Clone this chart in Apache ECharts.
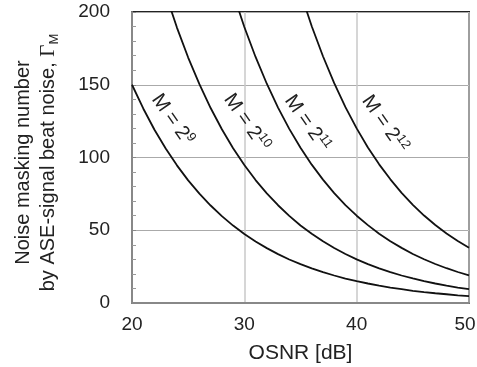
<!DOCTYPE html>
<html>
<head>
<meta charset="utf-8">
<script src="https://cdn.jsdelivr.net/npm/echarts@6/dist/echarts.min.js"></script>
<style>
  html, body { margin: 0; padding: 0; background: #fff; }
  #chart { width: 477px; height: 367px; }
</style>
</head>
<body>
<div id="chart"></div>
<script>
// OSNR in dB, 1 dB steps
var osnr = [20, 21, 22, 23, 24, 25, 26, 27, 28, 29, 30, 31, 32, 33, 34, 35, 36, 37, 38, 39, 40,
            41, 42, 43, 44, 45, 46, 47, 48, 49, 50];

// noise masking number (null = above 200, off the plot)
var m9 = [150, 133.7, 119.1, 106.2, 94.6, 84.3, 75.2, 67.0, 59.7, 53.2, 47.4, 42.3, 37.7, 33.6, 29.9, 26.7,
          23.8, 21.2, 18.9, 16.8, 15.0, 13.4, 11.9, 10.6, 9.5, 8.4, 7.5, 6.7, 6.0, 5.3, 4.7];
var m10 = [null, null, null, 212.4, 189.3, 168.7, 150.4, 134.0, 119.4, 106.4, 94.9, 84.5, 75.4, 67.2, 59.9, 53.3,
           47.6, 42.4, 37.8, 33.7, 30.0, 26.7, 23.8, 21.2, 18.9, 16.9, 15.0, 13.4, 11.9, 10.6, 9.5];
var m11 = [null, null, null, null, null, null, null, null, null, 212.9, 189.7, 169.1, 150.7, 134.3, 119.7, 106.7,
           95.1, 84.8, 75.5, 67.3, 60.0, 53.5, 47.6, 42.5, 37.9, 33.7, 30.1, 26.8, 23.9, 21.3, 19.0];
var m12 = [null, null, null, null, null, null, null, null, null, null, null, null, null, null, null, 213.4,
           190.2, 169.6, 151.1, 134.6, 120.0, 106.9, 95.3, 85.0, 75.7, 67.5, 60.1, 53.6, 47.8, 42.6, 37.9];

var seriesNames = ['9', '10', '11', '12'];
var seriesData = [m9, m10, m11, m12];

// where the "M = 2^n" labels sit, in data coordinates [OSNR, Γ]
var labelPos = [[23.6, 126], [30.2, 124], [35.6, 123.5], [42.5, 123]];

var xTicks = { min: 20, max: 50, interval: 10 };
var yTicks = { min: 0, max: 200, interval: 50 };

var chart = echarts.init(document.getElementById('chart'));

function pairs(arr) {
  var out = [];
  for (var i = 0; i < osnr.length; i++) {
    out.push([osnr[i], arr[i]]);
  }
  return out;
}

var series = [];
for (var s = 0; s < seriesData.length; s++) {
  series.push({
    name: 'M = 2^' + seriesNames[s],
    type: 'line',
    data: pairs(seriesData[s]),
    showSymbol: false,
    smooth: false,
    clip: true,
    lineStyle: { color: '#111', width: 1.8 },
    z: 5
  });
}

var option = {
  animation: false,
  grid: {
    left: 132, right: 8, top: 12, bottom: 64,
    containLabel: false,
    outerBoundsMode: 'none',
    show: true,
    borderColor: '#222',
    borderWidth: 2,
    backgroundColor: 'transparent'
  },
  xAxis: {
    type: 'value',
    min: xTicks.min, max: xTicks.max, interval: xTicks.interval,
    name: 'OSNR [dB]',
    nameLocation: 'middle',
    nameGap: 40,
    nameTextStyle: { fontFamily: 'Liberation Sans', fontSize: 21, color: '#222' },
    axisLine: { show: true, lineStyle: { color: '#888', width: 2 } },
    axisTick: { show: false },
    axisLabel: {
      fontFamily: 'Liberation Sans', fontSize: 19, color: '#222', margin: 12,
      // last label sits a little left so it stays inside the page
      formatter: function (v) { return v === xTicks.max ? '{r|' + v + '}' : '' + v; },
      rich: { r: { fontFamily: 'Liberation Sans', fontSize: 19, color: '#222', padding: [0, 8, 0, 0] } }
    },
    splitLine: { show: true, lineStyle: { color: '#c8c8c8', width: 1.5 } }
  },
  yAxis: {
    type: 'value',
    min: yTicks.min, max: yTicks.max, interval: yTicks.interval,
    name: 'Noise masking number\nby ASE-signal beat noise, {g|Γ}{sub|M}',
    nameLocation: 'middle',
    nameRotate: 90,
    nameGap: 71,
    nameTextStyle: {
      fontFamily: 'Liberation Sans', fontSize: 20, color: '#222', lineHeight: 25,
      padding: [0, 10, 0, 0],
      rich: {
        g: { fontFamily: 'Liberation Serif', fontSize: 21, color: '#222' },
        sub: { fontFamily: 'Liberation Sans', fontSize: 13, color: '#222', verticalAlign: 'bottom', padding: [7, 0, 0, 0] }
      }
    },
    axisLine: { show: true, lineStyle: { color: '#888', width: 2 } },
    axisTick: { show: true, inside: true, length: 4, lineStyle: { color: '#888' } },
    minorTick: { show: true, splitNumber: 5, length: 4, lineStyle: { color: '#999' } },
    axisLabel: { fontFamily: 'Liberation Sans', fontSize: 19, color: '#222', margin: 22 },
    splitLine: { show: true, lineStyle: { color: '#aaa', width: 1.2 } }
  },
  series: series
};

chart.setOption(option);

// rotated curve labels, placed through the grid's own scale
var graphics = [];
for (var k = 0; k < labelPos.length; k++) {
  var p = chart.convertToPixel({ gridIndex: 0 }, labelPos[k]);
  graphics.push({
    type: 'text',
    x: p[0], y: p[1],
    rotation: -55 * Math.PI / 180,
    z: 10,
    style: {
      text: 'M = 2{sup|' + seriesNames[k] + '}',
      fontFamily: 'Liberation Sans',
      fontSize: 20,
      fill: '#222',
      align: 'center',
      verticalAlign: 'middle',
      rich: {
        sup: { fontFamily: 'Liberation Sans', fontSize: 13, fill: '#222', padding: [0, 0, 10, 0] }
      }
    }
  });
}
chart.setOption({ graphic: graphics });
</script>
</body>
</html>
